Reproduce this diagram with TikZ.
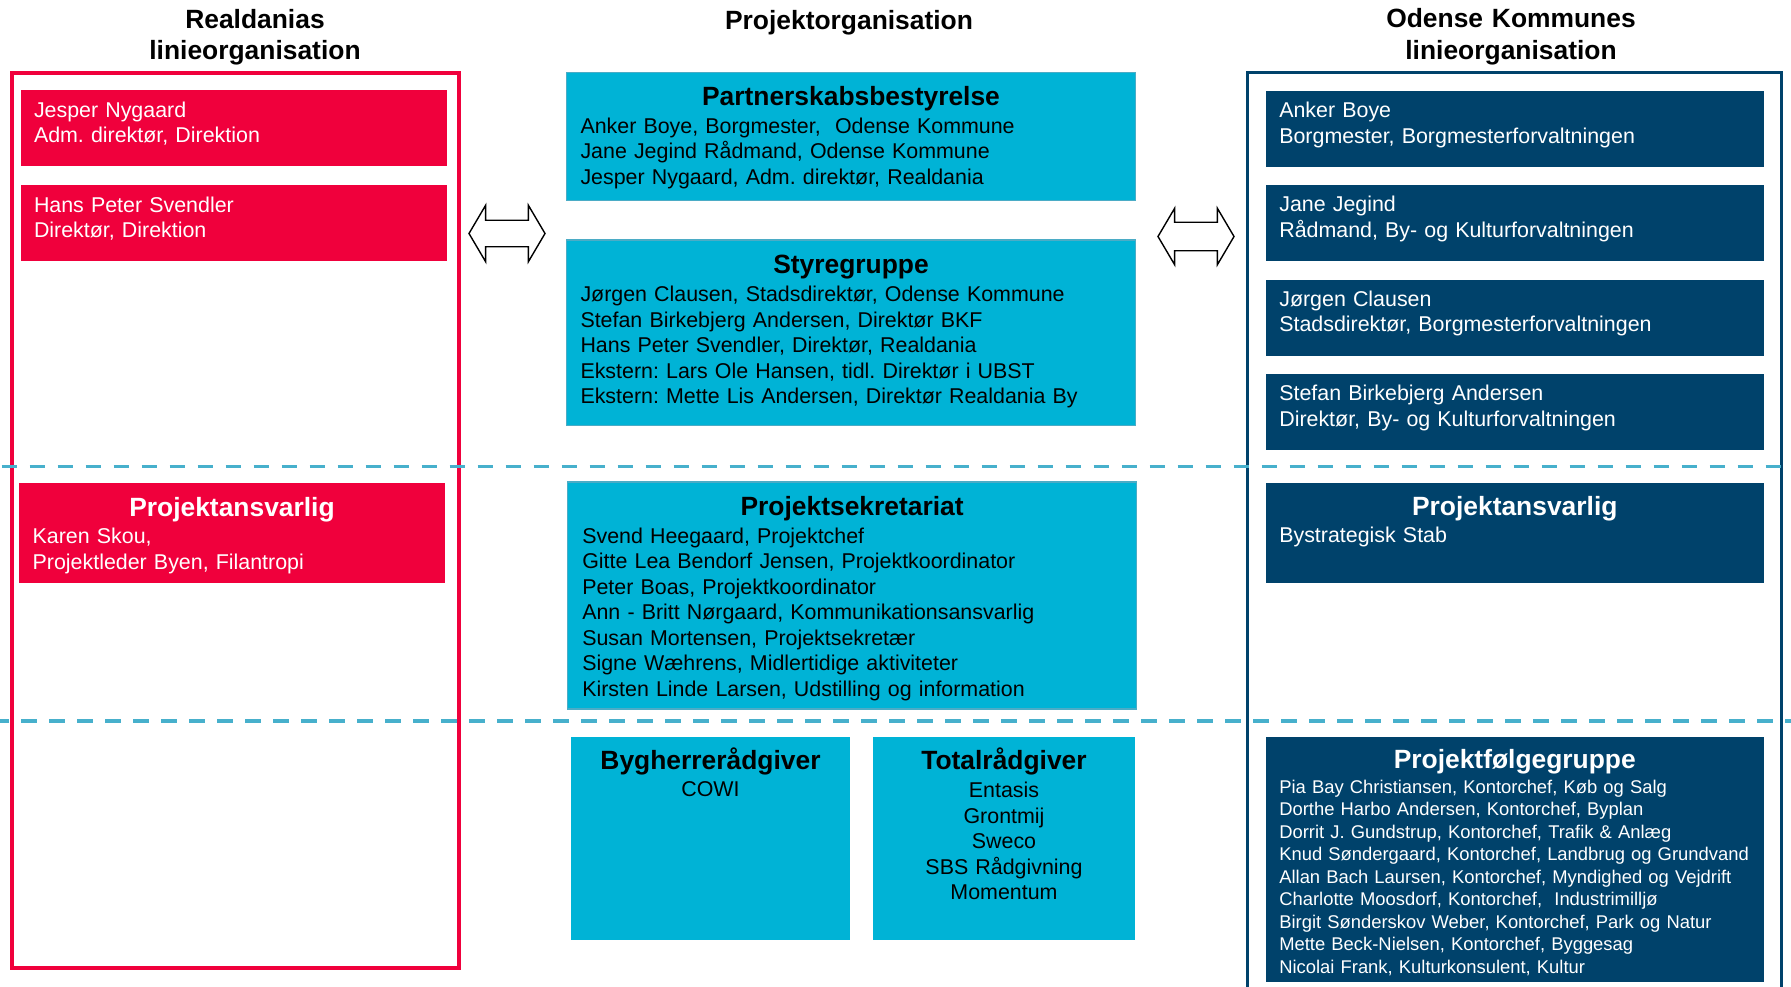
\documentclass[tikz,border=0pt]{standalone}
\usepackage{fontspec}
\setmainfont{Liberation Sans}
\usetikzlibrary{positioning,shapes.arrows}
\frenchspacing

\definecolor{rdred}{HTML}{F0003C}
\definecolor{oknavy}{HTML}{00426B}
\definecolor{prcyan}{HTML}{00B3D6}
\definecolor{prrim}{HTML}{4BACC6}
\definecolor{sepblue}{HTML}{47B0CC}
\newcommand{\boxhead}[1]{\makebox[\linewidth]{\fontsize{26.4}{30}\selectfont\bfseries #1}}

\begin{document}
\begin{tikzpicture}[x=1pt, y=-1pt,
  ttl/.style={anchor=base, inner sep=0pt, text width=420pt, align=center,
              font=\fontsize{26.4}{31.7}\selectfont\bfseries},
  box/.style={anchor=north west, outer sep=0pt, inner ysep=0pt, align=left,
              font=\fontsize{21.4}{25.5}\selectfont},
  redbox/.style={box, fill=rdred, text=white, inner xsep=13pt, text width=400pt,
                 text height=27.3pt, text depth=48.7pt},
  navybox/.style={box, fill=oknavy, text=white, inner xsep=13.3pt, text width=470.9pt,
                  text height=26.6pt, text depth=49.1pt},
  cyanbox/.style={box, fill=prcyan, text=black, inner xsep=14pt, text width=541pt},
  rimmed/.style={draw=prrim, line width=1.5pt},
  colframe/.style={line width=4pt},
  sepline/.style={draw=sepblue, line width=3.6pt, dash pattern=on 15.7pt off 12.3pt},
  dblarrow/.style={shape=double arrow, draw=black, fill=white, line width=1.4pt,
                   inner xsep=0pt, minimum height=76pt, double arrow tip angle=119,
                   outer sep=0pt},
  node distance=19pt]
\useasboundingbox (0,0) rectangle (1791,987);

% column titles
\node[ttl] (tRd) at (255,28.3) {Realdanias\\linieorganisation};
\node[ttl] (tPo) at (849,30) {Projektorganisation};
\node[ttl] (tOk) at (1511,28) {Odense Kommunes\\linieorganisation};

% Realdania
\draw[colframe, draw=rdred] (11.5,73) rectangle (458.5,968);
\node[redbox] (rJN) at (21,90) {Jesper Nygaard\\Adm. direktør, Direktion};
\node[redbox, below=of rJN] (rHPS) {Hans Peter Svendler\\Direktør, Direktion};
\node[redbox, inner xsep=13.7pt, text width=398.6pt, text height=33pt, text depth=67pt] (rPA) at (19,483)
  {\boxhead{Projektansvarlig}\\[2pt]Karen Skou,\\Projektleder Byen, Filantropi};

% projektorganisation
\node[cyanbox, rimmed, text height=33.7pt, text depth=94.7pt] (pPB) at (566.5,72.3)
  {\boxhead{Partnerskabsbestyrelse}\\[1.8pt]
   Anker Boye, Borgmester,~ Odense Kommune\\
   Jane Jegind Rådmand, Odense Kommune\\
   Jesper Nygaard, Adm. direktør, Realdania};
\node[cyanbox, rimmed, text height=33.3pt, text depth=152.4pt, below=39.3pt of pPB] (pSG)
  {\boxhead{Styregruppe}\\[2.9pt]
   Jørgen Clausen, Stadsdirektør, Odense Kommune\\
   Stefan Birkebjerg Andersen, Direktør BKF\\
   Hans Peter Svendler, Direktør, Realdania\\
   Ekstern: Lars Ole Hansen, tidl. Direktør i UBST\\
   Ekstern: Mette Lis Andersen, Direktør Realdania By};
\node[cyanbox, rimmed, inner xsep=14.6pt, text width=539.6pt, text height=33pt, text depth=194pt] (pPS) at (567.7,482)
  {\boxhead{Projektsekretariat}\\[2.5pt]
   Svend Heegaard, Projektchef\\
   Gitte Lea Bendorf Jensen, Projektkoordinator\\
   Peter Boas, Projektkoordinator\\
   Ann - Britt Nørgaard, Kommunikationsansvarlig\\
   Susan Mortensen, Projektsekretær\\
   Signe Wæhrens, Midlertidige aktiviteter\\
   Kirsten Linde Larsen, Udstilling og information};
\node[cyanbox, align=center, inner xsep=5pt, text width=269pt, text height=32.7pt, text depth=170.3pt] (pBR) at (571,737)
  {\boxhead{Bygherrerådgiver}\\[0.8pt]COWI};
\node[cyanbox, align=center, inner xsep=5pt, text width=252pt, text height=32.7pt, text depth=170.3pt, right=23pt of pBR] (pTR)
  {\boxhead{Totalrådgiver}\\[2.4pt]Entasis\\Grontmij\\Sweco\\SBS Rådgivning\\Momentum};

% Odense Kommune
\draw[colframe, draw=oknavy, line width=3pt] (1247.5,73) rectangle (1781.5,1000);
\node[navybox] (oAB) at (1266,91) {Anker Boye\\Borgmester, Borgmesterforvaltningen};
\node[navybox, below=18.7pt of oAB] (oJJ) {Jane Jegind\\Rådmand, By- og Kulturforvaltningen};
\node[navybox, below=18.7pt of oJJ] (oJC) {Jørgen Clausen\\Stadsdirektør, Borgmesterforvaltningen};
\node[navybox, below=18.7pt of oJC] (oSBA) {Stefan Birkebjerg Andersen\\Direktør, By- og Kulturforvaltningen};
\node[navybox, text height=32.3pt, text depth=67.4pt] (oPA) at (1266,483)
  {\boxhead{Projektansvarlig}\\[1.8pt]Bystrategisk Stab};
\node[navybox, text height=31pt, text depth=214pt, font=\fontsize{18.4}{22.5}\selectfont] (oPF) at (1266,737)
  {\boxhead{Projektfølgegruppe}\\[2.5pt]
   Pia Bay Christiansen, Kontorchef, Køb og Salg\\
   Dorthe Harbo Andersen, Kontorchef, Byplan\\
   Dorrit J. Gundstrup, Kontorchef, Trafik \& Anlæg\\
   Knud Søndergaard, Kontorchef, Landbrug og Grundvand\\
   Allan Bach Laursen, Kontorchef, Myndighed og Vejdrift\\
   Charlotte Moosdorf, Kontorchef,~ Industrimilljø\\
   Birgit Sønderskov Weber, Kontorchef, Park og Natur\\
   Mette Beck-Nielsen, Kontorchef, Byggesag\\
   Nicolai Frank, Kulturkonsulent, Kultur};

% levels
\draw[sepline, dash phase=26.3pt] (0,466.5) -- (1791,466.5);
\draw[sepline, dash phase=6.7pt] (0,721) -- (1791,721);

% two-way arrows
\node[dblarrow, inner ysep=12.5pt, double arrow head extend=15pt] (aRd) at (507,233.5) {};
\node[dblarrow, inner ysep=13.5pt, double arrow head extend=14pt] (aOk) at (1196,236.5) {};
\end{tikzpicture}
\end{document}
